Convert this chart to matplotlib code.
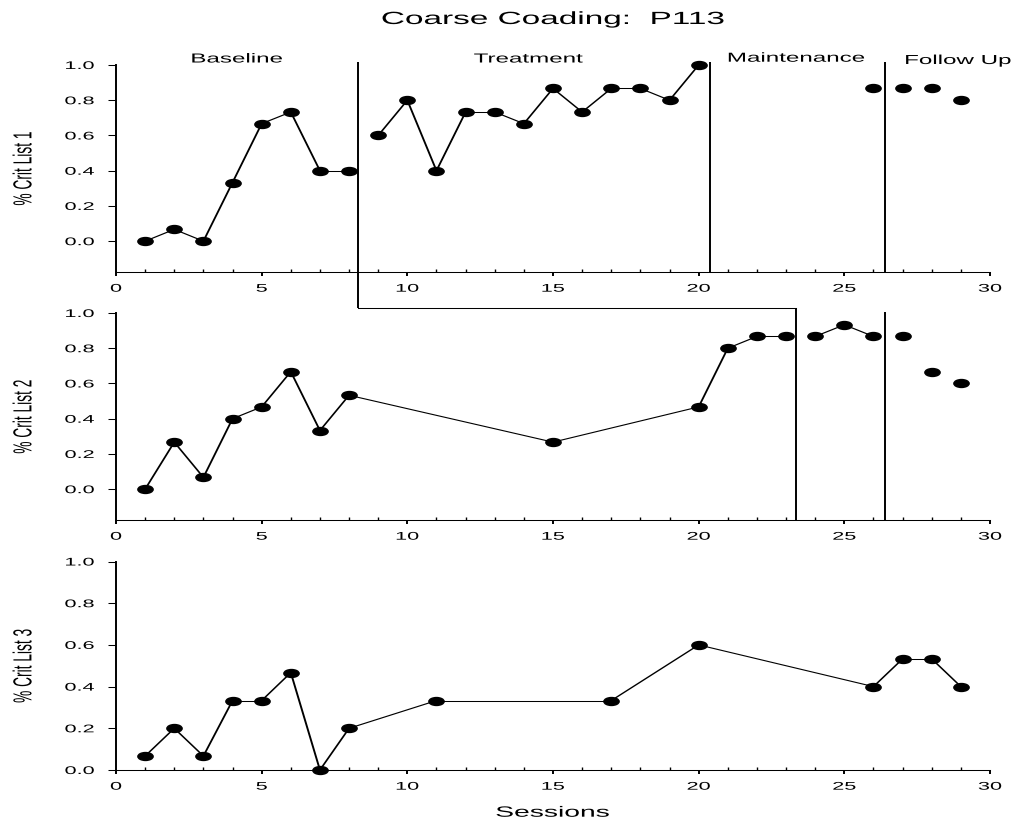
import numpy as np
import matplotlib
matplotlib.use("Agg")
import matplotlib.pyplot as plt
from matplotlib.path import Path
from matplotlib.transforms import Affine2D, blended_transform_factory
from matplotlib.patheffects import AbstractPathEffect
from matplotlib.collections import LineCollection
from matplotlib.lines import Line2D
from matplotlib.ticker import FormatStrFormatter

# ---------------- data ----------------
title = "Coarse Coading:  P113"
xlabel = "Sessions"
ylabels = ["% Crit List 1", "% Crit List 2", "% Crit List 3"]
phase_names = ["Baseline", "Treatment", "Maintenance", "Follow Up"]
phase_label_x = [4.15, 14.15, 23.35, 28.9]

sessions1 = [1, 2, 3, 4, 5, 6, 7, 8, 9, 10, 11, 12, 13, 14, 15, 16, 17, 18, 19, 20,
             26, 27, 28, 29]
crit1 = [0.0, 0.067, 0.0, 0.333, 0.667, 0.733, 0.4, 0.4,
         0.6, 0.8, 0.4, 0.733, 0.733, 0.667, 0.867, 0.733, 0.867, 0.867, 0.8, 1.0,
         0.867, 0.867, 0.867, 0.8]
group1 = [0] * 8 + [1] * 12 + [2] + [3, 4, 5]

sessions2 = [1, 2, 3, 4, 5, 6, 7, 8, 15, 20, 21, 22, 23, 24, 25, 26, 27, 28, 29]
crit2 = [0.0, 0.267, 0.067, 0.4, 0.467, 0.667, 0.333, 0.533, 0.267, 0.467,
         0.8, 0.867, 0.867, 0.867, 0.933, 0.867, 0.867, 0.667, 0.6]
group2 = [0] * 13 + [1] * 3 + [2, 3, 4]

sessions3 = [1, 2, 3, 4, 5, 6, 7, 8, 11, 17, 20, 26, 27, 28, 29]
crit3 = [0.067, 0.2, 0.067, 0.333, 0.333, 0.467, 0.0, 0.2, 0.333, 0.333,
         0.6, 0.4, 0.533, 0.533, 0.4]
group3 = [0] * 15

phase_lines1 = [8.3, 20.4, 26.4]
phase_lines2 = [23.35, 26.4]

xticks = [0, 5, 10, 15, 20, 25, 30]
yticks = [0.0, 0.2, 0.4, 0.6, 0.8, 1.0]

# ---------------- style helpers ----------------
plt.rcParams['font.family'] = ['Liberation Sans', 'DejaVu Sans']
SX = 1.9  # horizontal stretch of the original rendering


class HStretch(AbstractPathEffect):
    """Stretch a text path horizontally about an anchor of its ink box."""
    def __init__(self, sx=SX, anchor="center"):
        super().__init__()
        self.sx = sx
        self.anchor = anchor

    def draw_path(self, renderer, gc, tpath, affine, rgbFace=None):
        ext = tpath.get_extents(affine)
        if self.anchor == "right":
            cx = ext.x1
        elif self.anchor == "left":
            cx = ext.x0
        else:
            cx = 0.5 * (ext.x0 + ext.x1)
        t = affine + Affine2D().translate(-cx, 0).scale(self.sx, 1.0).translate(cx, 0)
        renderer.draw_path(gc, tpath, t, rgbFace)


W, H = 1017, 822
fig = plt.figure(figsize=(W / 100, H / 100), dpi=100)

left = 116 / W
width = 874 / W
ax1 = fig.add_axes([left, 1 - 272 / H, width, 207 / H])
ax2 = fig.add_axes([left, 1 - 520 / H, width, 207 / H])
ax3 = fig.add_axes([left, 1 - 770 / H, width, 208.5 / H])
axes = [ax1, ax2, ax3]

ell = Path.unit_circle().transformed(Affine2D().scale(1.0, 0.52))

for ax in axes:
    ax.set_xlim(0, 30)
    ax.autoscale(False)
for ax in (ax1, ax2):
    ax.set_ylim(-0.175, 1.0)
ax3.set_ylim(0.0, 1.0)


def draw_series(ax, xs, ys, groups, base_lw=0.75):
    xs = np.asarray(xs, float)
    ys = np.asarray(ys, float)
    groups = np.asarray(groups)
    segs, lws = [], []
    for g in np.unique(groups):
        m = groups == g
        gx, gy = xs[m], ys[m]
        for i in range(len(gx) - 1):
            p0 = ax.transData.transform((gx[i], gy[i]))
            p1 = ax.transData.transform((gx[i + 1], gy[i + 1]))
            dx, dy = (p1 - p0)
            ox = dx / SX
            n = np.array([-dy, ox]) / np.hypot(dy, ox)
            thick = base_lw / np.hypot(n[0] / SX, n[1])
            segs.append([(gx[i], gy[i]), (gx[i + 1], gy[i + 1])])
            lws.append(thick)
    if segs:
        lc = LineCollection(segs, colors="black", linewidths=lws,
                            capstyle="round", joinstyle="round", zorder=2)
        lc.set_clip_on(False)
        ax.add_collection(lc)
    ax.plot(xs, ys, ls="none", marker=ell, ms=11, color="black",
            zorder=3, clip_on=False)


draw_series(ax1, sessions1, crit1, group1)
draw_series(ax2, sessions2, crit2, group2)
draw_series(ax3, sessions3, crit3, group3)

for ax, lab in zip(axes, ylabels):
    for s in ("top", "right"):
        ax.spines[s].set_visible(False)
    ax.spines["left"].set_linewidth(1.4)
    ax.spines["bottom"].set_linewidth(0.75)
    ax.set_xticks(xticks)
    ax.set_xticks(range(0, 31), minor=True)
    ax.set_yticks(yticks)
    ax.yaxis.set_major_formatter(FormatStrFormatter("%.1f"))
    ax.tick_params(axis="x", which="major", direction="out", length=3,
                   width=1.4, pad=5.4, labelsize=8)
    ax.tick_params(axis="x", which="minor", direction="in", length=2.2,
                   width=1.0)
    ax.tick_params(axis="y", which="major", direction="out", length=5.8,
                   width=0.75, pad=10, labelsize=8)
    for t in ax.xaxis.get_major_ticks():
        t.label1.set_path_effects([HStretch(1.95, "center")])
    for t in ax.yaxis.get_major_ticks():
        t.label1.set_path_effects([HStretch(1.95, "right")])
    pos = ax.get_position()
    fig.text(23 / W, 0.5 * (pos.y0 + pos.y1), lab, rotation=90,
             ha="center", va="center", fontsize=9.9,
             path_effects=[HStretch(SX, "center")])

# ---------------- phase change lines ----------------
p1 = ax1.get_position()
p2 = ax2.get_position()
xt1 = ax1.get_xaxis_transform()
xt2 = ax2.get_xaxis_transform()
for x in phase_lines1[1:]:
    ax1.plot([x, x], [0, 1 + 3 / 207], transform=xt1, color="black",
             lw=1.4, clip_on=False, solid_capstyle="butt")
ax2.plot([phase_lines2[1]] * 2, [0, 1 + 1.3 / 207], transform=xt2,
         color="black", lw=1.4, clip_on=False, solid_capstyle="butt")

blend = blended_transform_factory(ax1.transData, fig.transFigure)
y_top = p1.y1 + 3 / H
y_step = p2.y1 + 5.3 / H
fig.add_artist(Line2D([phase_lines1[0]] * 2, [y_top, y_step], transform=blend,
                      color="black", lw=1.4, solid_capstyle="butt"))
fig.add_artist(Line2D([phase_lines1[0], phase_lines2[0]], [y_step, y_step],
                      transform=blend, color="black", lw=0.75,
                      solid_capstyle="projecting"))
fig.add_artist(Line2D([phase_lines2[0]] * 2, [y_step, p2.y0], transform=blend,
                      color="black", lw=1.4, solid_capstyle="butt"))

# ---------------- phase labels, title, x label ----------------
phase_y = [1 + 2.5 / 207, 1 + 2.5 / 207, 1 + 3.3 / 207, 1 + 1.0 / 207]
for name, x, y in zip(phase_names, phase_label_x, phase_y):
    ax1.text(x, y, name, transform=xt1, ha="center", va="baseline",
             fontsize=9.4, clip_on=False,
             path_effects=[HStretch(1.85, "center")])

fig.text(553 / W, 1 - 24 / H, title, ha="center", va="baseline",
         fontsize=12.7, path_effects=[HStretch(1.89, "center")])
fig.text(552.5 / W, 1 - 816.7 / H, xlabel, ha="center", va="baseline",
         fontsize=10.7, path_effects=[HStretch(SX, "center")])

fig.savefig("out.png", dpi=100)
